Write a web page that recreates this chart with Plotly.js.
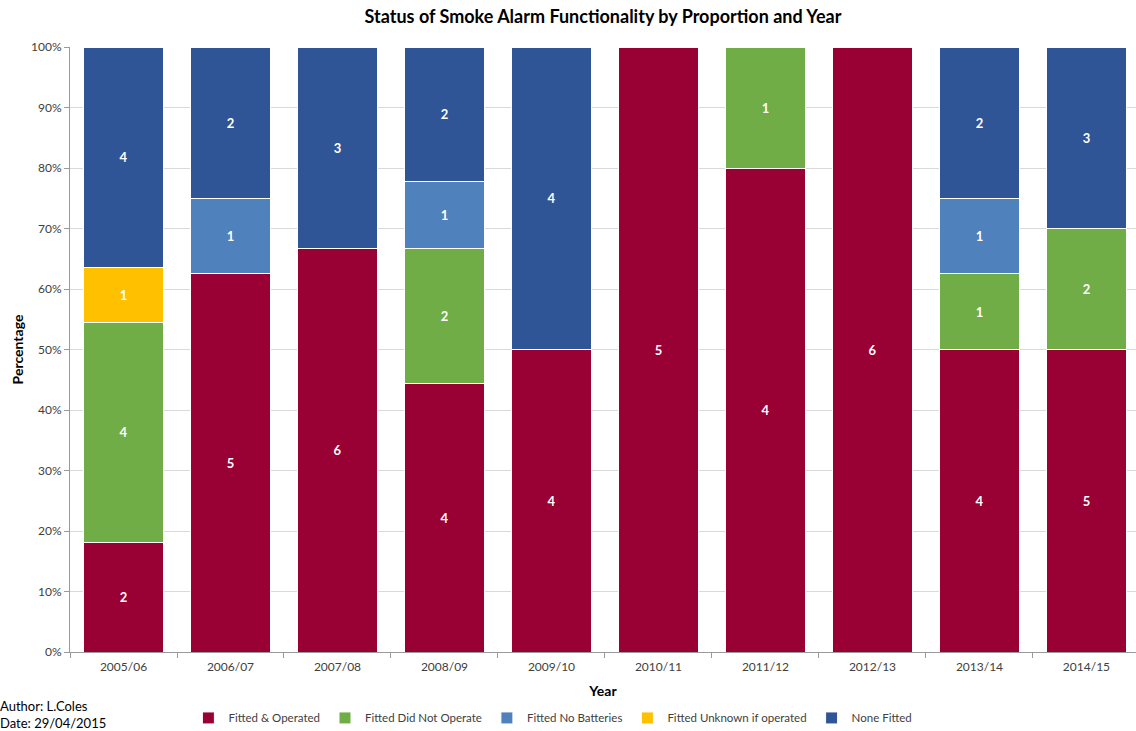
<!DOCTYPE html>
<html><head><meta charset="utf-8">
<script src="https://cdn.plot.ly/plotly-3.0.1.min.js"></script>
<style>html,body{margin:0;padding:0;background:#fff}#chart{width:1136px;height:731px}</style>
</head><body><div id="chart"></div>
<script>
const years = ["2005/06","2006/07","2007/08","2008/09","2009/10","2010/11","2011/12","2012/13","2013/14","2014/15"];
const fittedOperated   = [2,5,6,4,4,5,4,6,4,5];
const fittedNotOperate = [4,0,0,2,0,0,1,0,1,2];
const fittedNoBatteries= [0,1,0,1,0,0,0,0,1,0];
const fittedUnknown    = [1,0,0,0,0,0,0,0,0,0];
const noneFitted       = [4,2,3,2,4,0,0,0,2,3];
const seriesNames = ["Fitted & Operated","Fitted Did Not Operate","Fitted No Batteries","Fitted Unknown if operated","None Fitted"];
const seriesColors = ["#990033","#70AD47","#4F81BD","#FFC000","#2F5597"];
const allSeries = [fittedOperated, fittedNotOperate, fittedNoBatteries, fittedUnknown, noneFitted];
const FONT = "Lato, 'Open Sans', sans-serif";

const traces = allSeries.map((vals, i) => ({
  type: 'bar', x: years, y: vals, name: seriesNames[i],
  marker: {color: seriesColors[i], line: {color: '#ffffff', width: 1}},
  text: vals.map(v => v > 0 ? String(v) : ''),
  textposition: 'inside', insidetextanchor: 'middle', textangle: 0,
  textfont: {color: '#ffffff', size: 13, family: FONT, weight: 'bold'},
  hoverinfo: 'x+y+name'
}));

const layout = {
  width: 1136, height: 731,
  margin: {l: 70, r: 0, t: 47, b: 79, autoexpand: false},
  paper_bgcolor: '#fff', plot_bgcolor: '#fff',
  barmode: 'stack', barnorm: 'percent', bargap: 0.26,
  uniformtext: {mode: 'show', minsize: 13},
  font: {family: FONT, color: '#404040', size: 12},
  title: {text: '<b>Status of Smoke Alarm Functionality by Proportion and Year</b>',
          x: 0.5, xref: 'paper', y: 0.977, yanchor: 'middle',
          font: {size: 18, color: '#000', family: FONT}},
  xaxis: {type: 'category', range: [-0.5, 9.463], tickson: 'boundaries',
          ticks: 'outside', ticklen: 5, tickcolor: '#9a9a9a',
          showline: true, linecolor: '#9a9a9a', linewidth: 1,
          ticklabelstandoff: 4,
          tickfont: {size: 12, color: '#404040'},
          title: {text: '<b>Year</b>', font: {size: 14, color: '#000'}, standoff: 12}},
  yaxis: {range: [0, 100], dtick: 10, ticksuffix: '%',
          ticks: 'outside', ticklen: 5, tickcolor: '#9a9a9a',
          showline: true, linecolor: '#9a9a9a', linewidth: 1,
          showgrid: true, gridcolor: '#d9d9d9', zeroline: false,
          tickfont: {size: 12, color: '#404040'},
          title: {text: '<b>Percentage</b>', font: {size: 14, color: '#000'}, standoff: 4}},
  legend: {orientation: 'h', traceorder: 'normal', x: 0.453, xanchor: 'center',
           y: -0.085, yanchor: 'top', font: {size: 11.5, color: '#404040'},
           itemwidth: 30},
  annotations: [
    {text: 'Author: L.Coles', xref: 'paper', yref: 'paper', x: -70/1066 - 0.002, y: -0.09,
     xanchor: 'left', yanchor: 'middle', showarrow: false, font: {size: 13, color: '#000'}},
    {text: 'Date: 29/04/2015', xref: 'paper', yref: 'paper', x: -70/1066 - 0.002, y: -0.118,
     xanchor: 'left', yanchor: 'middle', showarrow: false, font: {size: 13, color: '#000'}}
  ],
  showlegend: true
};
Plotly.newPlot('chart', traces, layout, {displayModeBar: false});
</script></body></html>
